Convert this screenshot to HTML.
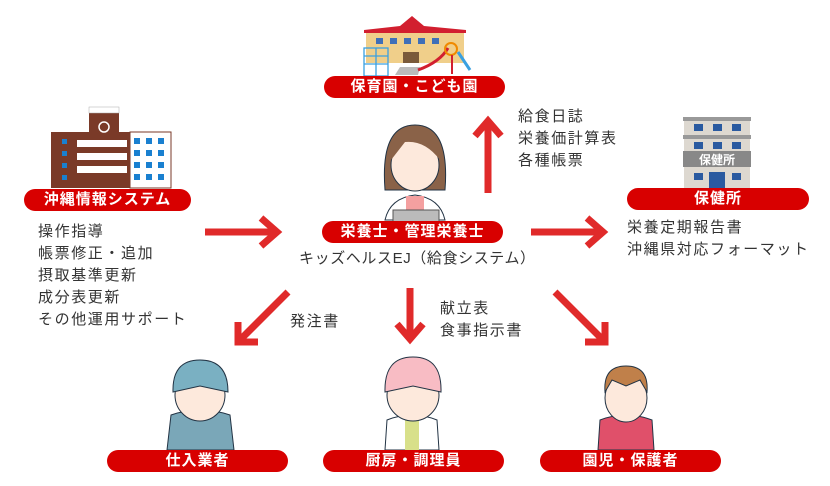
<!DOCTYPE html>
<html><head><meta charset="utf-8"><style>
body{margin:0;width:830px;height:486px;background:#fff;position:relative;overflow:hidden;font-family:"Liberation Sans","Noto Sans CJK JP",sans-serif;}
.lb{position:absolute;background:#d80000;color:#fff;border-radius:12px;font-weight:bold;font-size:15px;text-align:center;line-height:22px;height:22px;letter-spacing:1px}
.t{position:absolute;color:#333;font-size:15px;line-height:22px;white-space:nowrap;letter-spacing:1.6px}
svg{position:absolute;left:0;top:0}
</style></head><body>
<svg width="830" height="486">
<!-- nursery -->
<rect x="366" y="30" width="98" height="33" fill="#f0cf8a"/>
<polygon points="364,30 400,26 412,16 424,26 466,30 466,33 364,33" fill="#d21f2f"/>
<g fill="#3f6fb8"><rect x="376" y="38" width="7" height="6"/><rect x="390" y="38" width="7" height="6"/><rect x="404" y="38" width="7" height="6"/><rect x="418" y="38" width="7" height="6"/><rect x="432" y="38" width="7" height="6"/></g>
<rect x="403" y="52" width="16" height="11" fill="#7a5a3a"/>
<g stroke="#3aa0e0" fill="none" stroke-width="1.3"><rect x="364" y="48" width="24" height="28"/><line x1="364" y1="56" x2="388" y2="56"/><line x1="364" y1="64" x2="388" y2="64"/><line x1="376" y1="48" x2="376" y2="76"/></g>
<polygon points="395,75 400,67 420,67 418,75" fill="#bbb"/>
<path d="M418,70 Q440,62 448,48" stroke="#d21f2f" stroke-width="3" fill="none"/>
<circle cx="451" cy="49" r="6" fill="none" stroke="#f08a00" stroke-width="2"/>
<line x1="452" y1="55" x2="452" y2="74" stroke="#d21f2f" stroke-width="2"/>
<line x1="458" y1="52" x2="470" y2="70" stroke="#3aa0e0" stroke-width="3"/>
<!-- okinawa building -->
<rect x="51" y="126" width="81" height="62" fill="#7a3a28"/>
<rect x="89" y="107" width="30" height="20" fill="#7a3a28"/>
<rect x="89" y="107" width="30" height="6" fill="#fff" stroke="#aaa" stroke-width=".5"/>
<rect x="51" y="126" width="38" height="6" fill="#fff"/>
<rect x="119" y="126" width="54" height="6" fill="#fff"/>
<rect x="130" y="132" width="41" height="56" fill="#fff" stroke="#7a3a28"/>
<g fill="#1a80d0"><rect x="134" y="138" width="6" height="6"/><rect x="146" y="138" width="6" height="6"/><rect x="158" y="138" width="6" height="6"/><rect x="134" y="150" width="6" height="6"/><rect x="146" y="150" width="6" height="6"/><rect x="158" y="150" width="6" height="6"/><rect x="134" y="162" width="6" height="6"/><rect x="146" y="162" width="6" height="6"/><rect x="158" y="162" width="6" height="6"/><rect x="134" y="174" width="6" height="6"/><rect x="146" y="174" width="6" height="6"/><rect x="158" y="174" width="6" height="6"/><rect x="62" y="139" width="5" height="5"/><rect x="62" y="151" width="5" height="5"/><rect x="62" y="163" width="5" height="5"/><rect x="62" y="175" width="5" height="5"/></g>
<g fill="#fff"><rect x="77" y="140" width="50" height="7"/><rect x="77" y="153" width="50" height="7"/><rect x="77" y="166" width="50" height="7"/></g>
<circle cx="104" cy="127" r="5" fill="none" stroke="#fff" stroke-width="1.5"/>
<!-- hokenjo -->
<rect x="684" y="120" width="66" height="68" fill="#ddd8d0"/>
<rect x="683" y="117" width="68" height="4" fill="#999"/><rect x="683" y="135" width="68" height="4" fill="#999"/>
<rect x="683" y="151" width="68" height="16" fill="#888"/>
<text x="717" y="164" fill="#fff" font-size="12" font-weight="bold" text-anchor="middle" font-family="Liberation Sans,Noto Sans CJK JP,sans-serif">保健所</text>
<g fill="#2a5aa0"><rect x="694" y="124" width="9" height="7"/><rect x="713" y="124" width="9" height="7"/><rect x="732" y="124" width="9" height="7"/><rect x="694" y="142" width="9" height="7"/><rect x="713" y="142" width="9" height="7"/><rect x="732" y="142" width="9" height="7"/><rect x="694" y="173" width="9" height="7"/><rect x="732" y="173" width="9" height="7"/><rect x="709" y="172" width="16" height="16"/></g>
<!-- nutritionist -->
<path d="M385,190 Q380,125 415,125 Q450,125 445,190 Z" fill="#8a6248" stroke="#234" stroke-width="1"/>
<ellipse cx="415" cy="165" rx="24" ry="26" fill="#fde9dc" stroke="#234"/>
<path d="M391,160 Q395,130 415,132 Q440,135 440,160 Q425,140 405,142 Z" fill="#8a6248"/>
<path d="M385,220 Q390,198 415,195 Q440,198 445,220 Z" fill="#fff" stroke="#234"/>
<rect x="406" y="196" width="18" height="15" fill="#f4a0a0"/>
<rect x="393" y="210" width="46" height="12" fill="#bbb" stroke="#555"/>
<!-- workers -->
<g stroke="#234" stroke-width="1">
<path d="M167,450 L171,415 Q200,405 230,415 L234,450 Z" fill="#7aa7b8"/>
<ellipse cx="200" cy="395" rx="25" ry="26" fill="#fde9dc"/>
<path d="M173,392 Q172,360 200,360 Q228,360 228,392 L200,386 Z" fill="#7ab0c2"/>
<path d="M385,450 L387,420 Q412,410 437,420 L439,450 Z" fill="#fff"/>
<rect x="405" y="420" width="14" height="30" fill="#d8e08a" stroke="none"/>
<ellipse cx="413" cy="395" rx="26" ry="26" fill="#fde9dc"/>
<path d="M385,392 Q384,357 413,357 Q442,357 441,392 L413,386 Z" fill="#f8bcc4"/>
<path d="M598,450 L600,420 Q626,410 652,420 L654,450 Z" fill="#e0506a"/>
<ellipse cx="626" cy="398" rx="21" ry="24" fill="#fde9dc"/>
<path d="M605,392 Q603,366 626,366 Q649,366 647,392 L640,380 L626,386 L612,380 Z" fill="#c0804a"/>
</g>
<!-- arrows -->
<g stroke="#e02a2a" stroke-width="7" fill="none">
<line x1="205" y1="232" x2="275" y2="232"/><polyline points="261,218 277,232 261,246"/>
<line x1="531" y1="232" x2="601" y2="232"/><polyline points="587,218 603,232 587,246"/>
<line x1="488" y1="193" x2="488" y2="122"/><polyline points="475,136 488,121 501,136"/>
<line x1="288" y1="292" x2="240" y2="340"/><polyline points="238,322 238,342 258,342"/>
<line x1="410" y1="288" x2="410" y2="338"/><polyline points="397,324 410,339 423,324"/>
<line x1="555" y1="292" x2="603" y2="340"/><polyline points="585,342 605,342 605,322"/>
</g>
</svg>
<div class="lb" style="left:324px;top:76px;width:181px">保育園・こども園</div>
<div class="lb" style="left:24px;top:189px;width:167px">沖縄情報システム</div>
<div class="lb" style="left:322px;top:221px;width:181px">栄養士・管理栄養士</div>
<div class="lb" style="left:627px;top:188px;width:182px">保健所</div>
<div class="lb" style="left:107px;top:450px;width:181px">仕入業者</div>
<div class="lb" style="left:323px;top:450px;width:181px">厨房・調理員</div>
<div class="lb" style="left:540px;top:450px;width:181px">園児・保護者</div>
<div class="t" style="left:38px;top:221px">操作指導<br>帳票修正・追加<br>摂取基準更新<br>成分表更新<br>その他運用サポート</div>
<div class="t" style="left:299px;top:248px;letter-spacing:0.6px">キッズヘルスEJ（給食システム）</div>
<div class="t" style="left:518px;top:106px">給食日誌<br>栄養価計算表<br>各種帳票</div>
<div class="t" style="left:627px;top:217px">栄養定期報告書<br>沖縄県対応フォーマット</div>
<div class="t" style="left:290px;top:311px">発注書</div>
<div class="t" style="left:440px;top:298px">献立表<br>食事指示書</div>
</body></html>
